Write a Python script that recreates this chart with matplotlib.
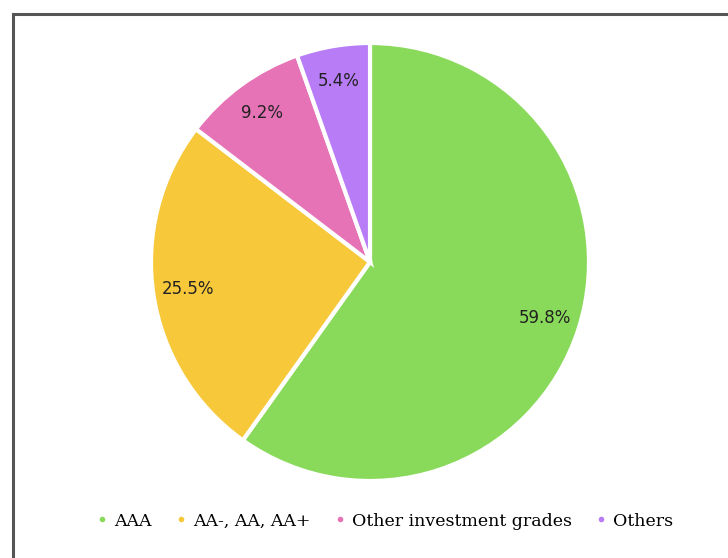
#!/usr/bin/env python3

import matplotlib
matplotlib.use('Agg')
import matplotlib.pyplot as plt
from matplotlib.lines import Line2D
from matplotlib.patches import Rectangle

categories = ['AAA', 'AA-, AA, AA+', 'Other investment grades', 'Others']
shares = [59.8, 25.5, 9.2, 5.4]
colors = ['#89d95b', '#f6c83a', '#e673b6', '#b77cf6']


def main():
    W, H = 728, 558
    fig = plt.figure(figsize=(W / 100, H / 100), dpi=100)

    # outer frame, runs off right and bottom edges
    fig.patches.append(Rectangle((13 / W, -0.05), 1.0, 1 - 14 / H + 0.05,
                                 transform=fig.transFigure, fill=False,
                                 edgecolor='#555555', linewidth=2.2))

    cx, cy, r = 370, 262, 219
    ax = fig.add_axes([(cx - r) / W, (H - cy - r) / H, 2 * r / W, 2 * r / H])
    wedges, texts = ax.pie(
        shares, colors=colors, startangle=90, counterclock=False,
        labels=['%.1f%%' % s for s in shares], labeldistance=0.84,
        radius=1.0, wedgeprops=dict(edgecolor='white', linewidth=3),
        textprops=dict(fontsize=12, family='DejaVu Sans', color='#222222'))
    for t in texts:
        t.set_horizontalalignment('center')
        t.set_verticalalignment('center')
    ax.set_xlim(-1, 1)
    ax.set_ylim(-1, 1)
    ax.set_aspect('equal')
    ax.axis('off')

    handles = [Line2D([], [], marker='o', linestyle='none', markersize=3,
                      markerfacecolor=c, markeredgecolor=c) for c in colors]
    fig.legend(handles, categories, loc='center', ncol=4,
               bbox_to_anchor=(0.529, 1 - 521 / H), frameon=False,
               prop=dict(family='DejaVu Serif', size=12.5),
               handlelength=0.6, handletextpad=0.36, columnspacing=1.42)

    fig.savefig('out.png', dpi=100)


if __name__ == "__main__":
    main()
